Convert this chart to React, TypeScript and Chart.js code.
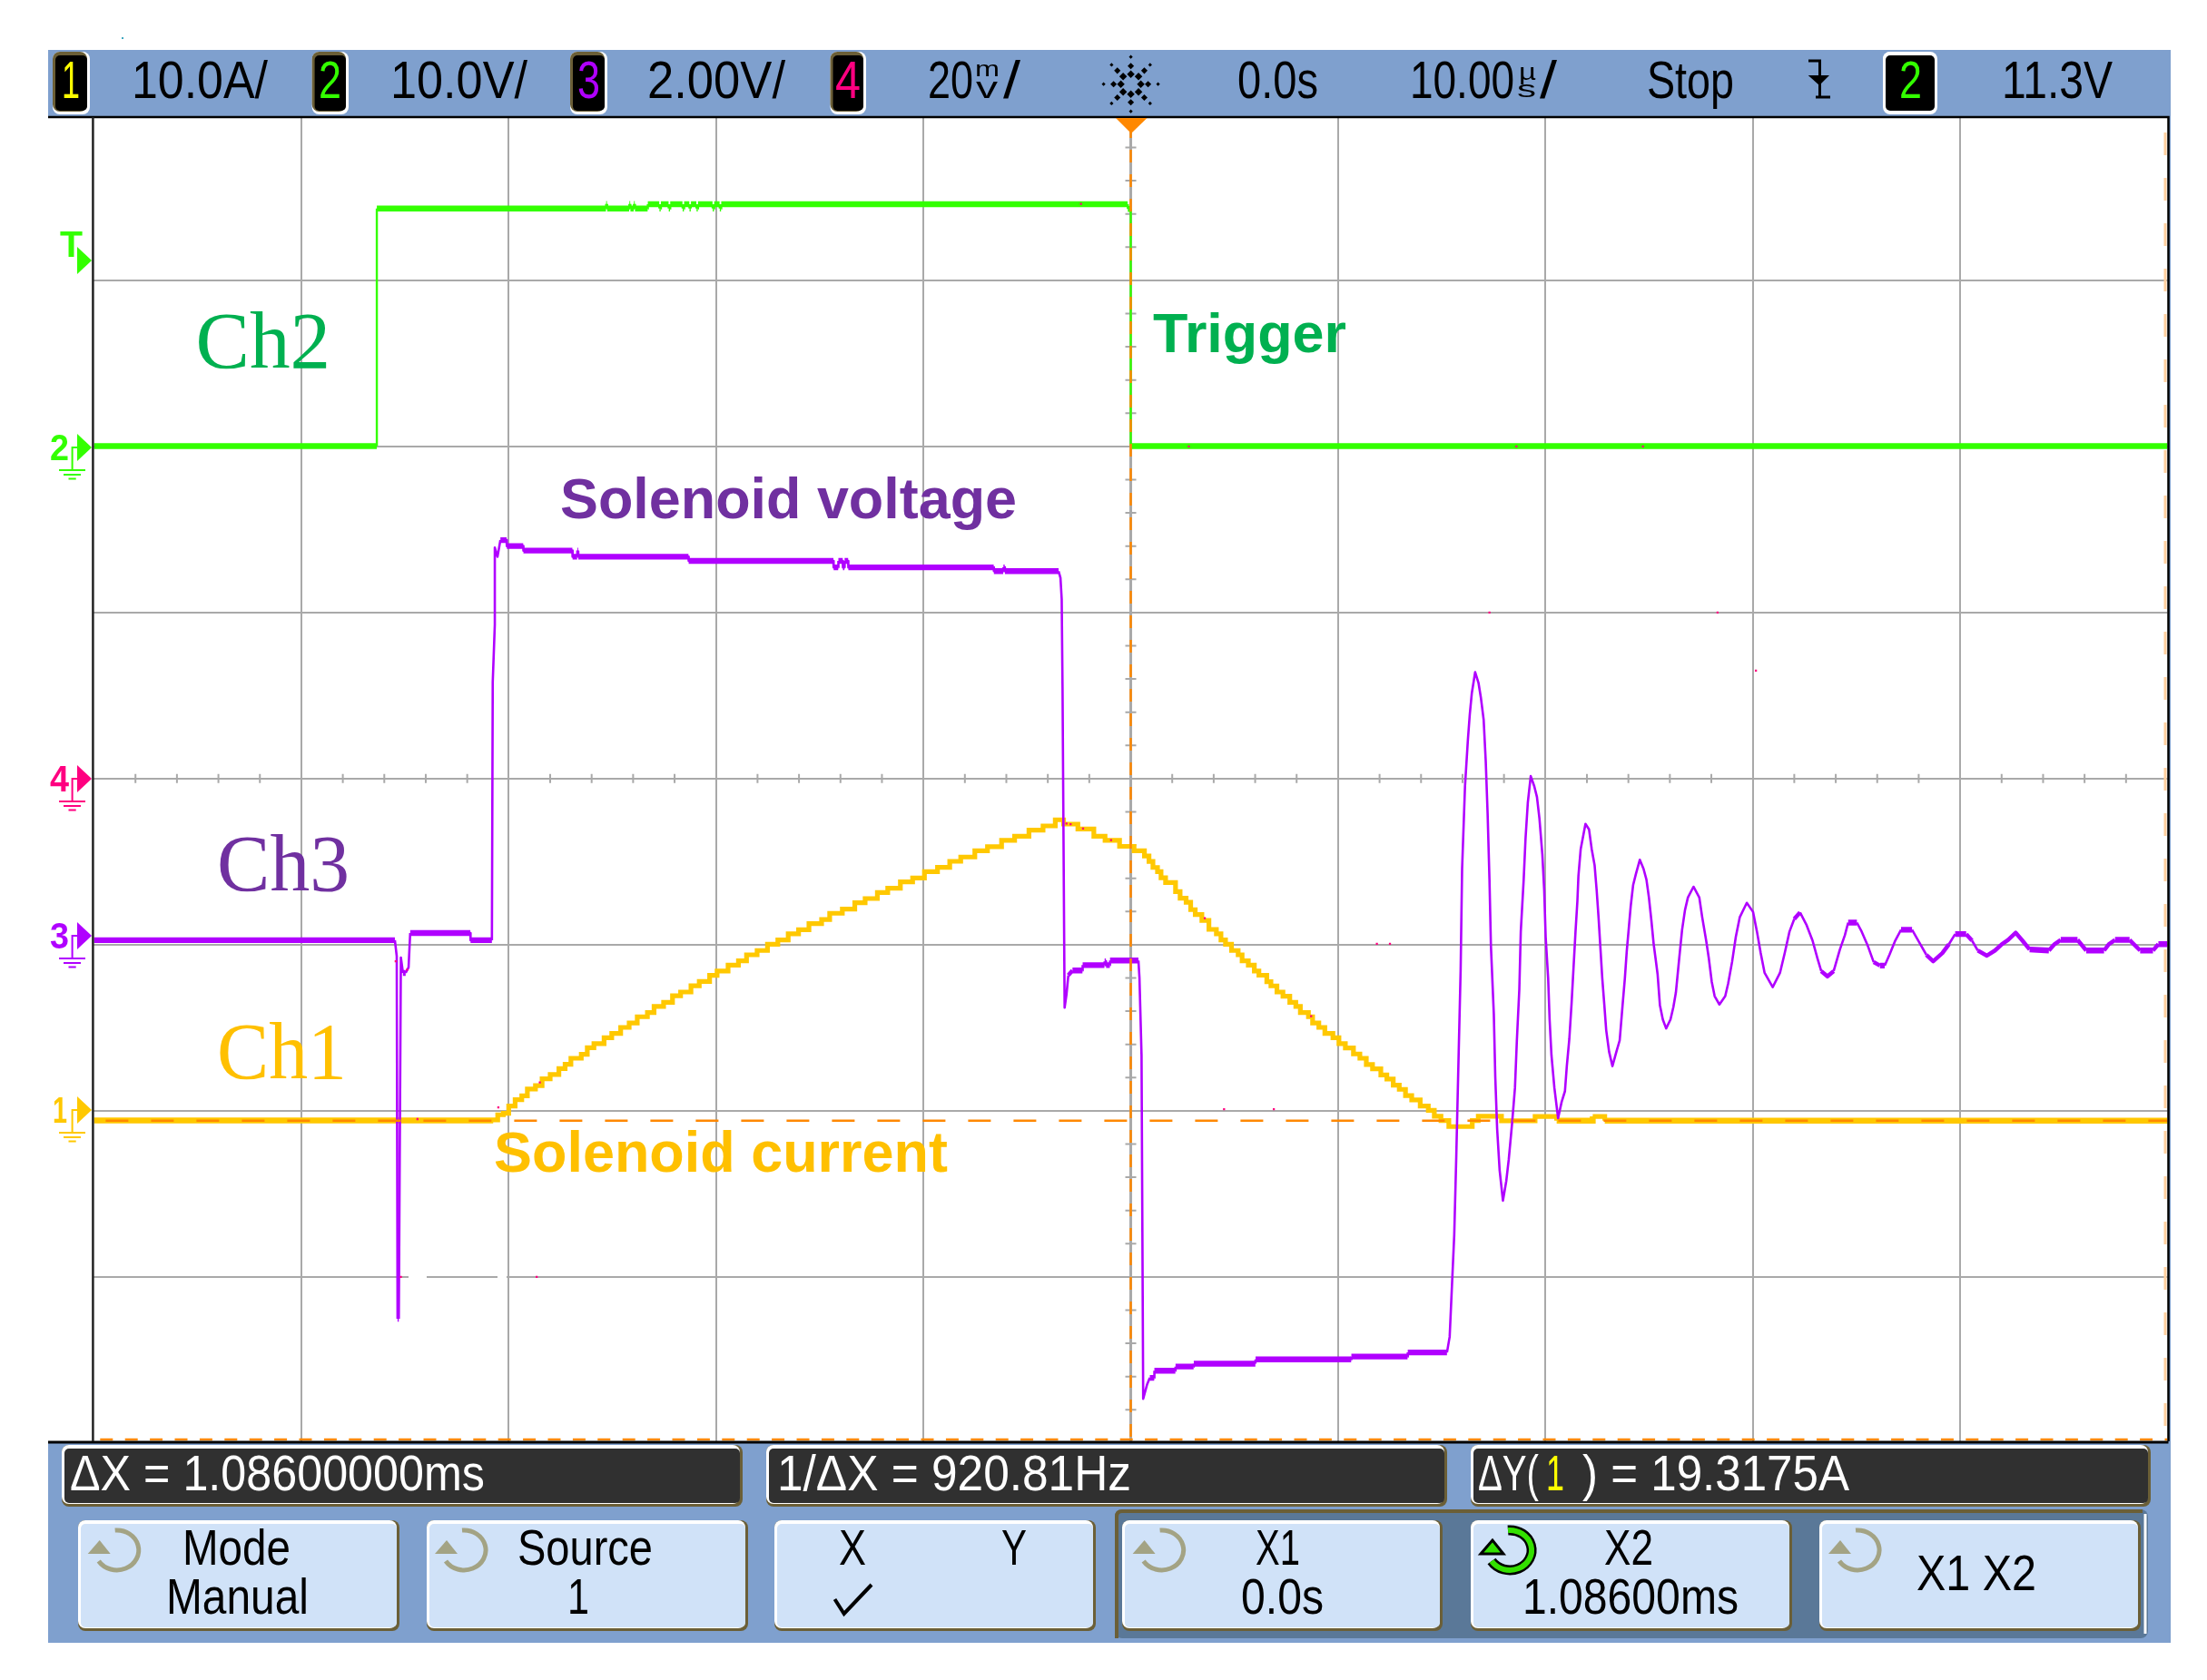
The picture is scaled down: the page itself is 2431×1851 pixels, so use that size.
import React, { useEffect, useRef } from "react";
import { Chart, registerables } from "chart.js";

Chart.register(...registerables);

const W = 2431;
const H = 1851;

// All samples: [time in µs from trigger, level in graticule divisions from screen centre]
const ch2Samples: [number, number][] = [
  [-50, 2.002], [-36.36, 2.002], [-36.36, 3.433], [-25.31, 3.433], [-25.3, 3.46], [-25.26, 3.46], [-25.25, 3.433],
  [-24.19, 3.433], [-24.18, 3.46], [-24.14, 3.46], [-24.13, 3.433], [-23.97, 3.433], [-23.96, 3.46], [-23.92, 3.46], [-23.91, 3.433],
  [-23.3, 3.433], [-23.29, 3.458], [-22.74, 3.458], [-22.73, 3.433], [-22.67, 3.433], [-22.66, 3.458],
  [-22.29, 3.458], [-22.28, 3.433], [-22.22, 3.433], [-22.21, 3.458], [-21.62, 3.458], [-21.61, 3.433], [-21.55, 3.433], [-21.54, 3.458],
  [-21.29, 3.458], [-21.28, 3.433], [-21.22, 3.433], [-21.21, 3.458], [-20.95, 3.458], [-20.94, 3.433], [-20.88, 3.433], [-20.87, 3.458],
  [-20.17, 3.458], [-20.16, 3.433], [-20.1, 3.433], [-20.09, 3.458], [-19.83, 3.458], [-19.82, 3.433], [-19.76, 3.433], [-19.75, 3.458],
  [-0.15, 3.458], [-0.14, 3.43], [0, 3.43], [0, 2.002], [50, 2.002],
];

const ch1Samples: [number, number][] = [
  [-50, -2.058], [-30.89, -2.055], [-30.53, -2.024], [-30.26, -2.015], [-30, -1.971], [-29.69, -1.933], [-29.37, -1.91], [-29.1, -1.869],
  [-28.71, -1.848], [-28.39, -1.808], [-28, -1.782], [-27.58, -1.746], [-27.28, -1.72], [-27, -1.684], [-26.5, -1.66], [-26.21, -1.62],
  [-25.89, -1.596], [-25.4, -1.56], [-25.03, -1.534], [-24.6, -1.498], [-24.19, -1.471], [-23.8, -1.434], [-23.31, -1.409], [-22.99, -1.372],
  [-22.53, -1.347], [-22.1, -1.308], [-21.71, -1.285], [-21.21, -1.247], [-20.81, -1.221], [-20.31, -1.185], [-19.95, -1.159], [-19.42, -1.123],
  [-18.92, -1.097], [-18.53, -1.061], [-18.02, -1.035], [-17.52, -0.997], [-17.02, -0.971], [-16.52, -0.935], [-16.02, -0.91], [-15.52, -0.873],
  [-14.91, -0.848], [-14.52, -0.811], [-13.91, -0.786], [-13.31, -0.747], [-12.81, -0.722], [-12.22, -0.686], [-11.72, -0.66], [-11.11, -0.622],
  [-10.52, -0.598], [-9.95, -0.56], [-9.32, -0.534], [-8.73, -0.498], [-8.2, -0.472], [-7.52, -0.434], [-6.91, -0.41], [-6.23, -0.372],
  [-5.6, -0.347], [-4.91, -0.31], [-4.23, -0.285], [-3.64, -0.248], [-3.24, -0.274], [-2.55, -0.303], [-1.78, -0.347], [-1.24, -0.372],
  [-0.54, -0.408], [0.16, -0.434], [0.66, -0.466], [0.88, -0.499], [1.07, -0.535], [1.29, -0.56], [1.46, -0.597], [1.68, -0.626],
  [2.16, -0.68], [2.38, -0.72], [2.67, -0.745], [2.89, -0.789], [3.11, -0.818], [3.43, -0.854], [3.77, -0.908], [4.13, -0.935],
  [4.35, -0.971], [4.57, -0.997], [4.86, -1.035], [5.18, -1.061], [5.37, -1.097], [5.67, -1.123], [5.96, -1.159], [6.18, -1.184],
  [6.56, -1.223], [6.76, -1.248], [7.05, -1.285], [7.34, -1.31], [7.67, -1.347], [7.96, -1.372], [8.18, -1.409], [8.57, -1.434],
  [8.77, -1.472], [9.07, -1.498], [9.36, -1.534], [9.75, -1.56], [10.04, -1.596], [10.35, -1.622], [10.74, -1.658], [11.05, -1.684],
  [11.36, -1.722], [11.66, -1.747], [12.06, -1.784], [12.35, -1.809], [12.66, -1.846], [12.95, -1.871], [13.25, -1.909], [13.55, -1.935],
  [13.96, -1.971], [14.35, -1.997], [14.64, -2.033], [14.96, -2.059], [15.34, -2.095], [16.47, -2.059], [16.76, -2.033], [17.88, -2.06],
  [19.5, -2.034], [20.54, -2.06], [22.28, -2.034], [22.86, -2.06], [50, -2.058],
];

const ch3Samples: [number, number][] = [
  [-50, -0.973], [-35.49, -0.973], [-35.4, -1.069], [-35.36, -3.252], [-35.3, -3.252], [-35.2, -1.077], [-35.1, -1.17], [-34.97, -1.17],
  [-34.83, -1.137], [-34.75, -0.93], [-31.85, -0.93], [-31.84, -0.973], [-30.81, -0.973], [-30.77, 0.58], [-30.67, 0.926], [-30.67, 1.391],
  [-30.54, 1.336], [-30.4, 1.436], [-30.1, 1.436], [-30.09, 1.4], [-29.3, 1.4], [-29.29, 1.373], [-26.93, 1.373], [-26.92, 1.336],
  [-26.7, 1.336], [-26.69, 1.373], [-26.65, 1.373], [-26.64, 1.336], [-21.33, 1.336], [-21.32, 1.311], [-14.34, 1.311], [-14.33, 1.272],
  [-14.11, 1.272], [-14.1, 1.311], [-13.89, 1.311], [-13.88, 1.272], [-13.81, 1.272], [-13.8, 1.311], [-13.63, 1.311], [-13.62, 1.272],
  [-6.61, 1.272], [-6.6, 1.249], [-6.15, 1.249], [-6.14, 1.272], [-6.08, 1.272], [-6.07, 1.249], [-3.48, 1.249], [-3.39, 1.209],
  [-3.33, 1.081], [-3.29, 0.547], [-3.19, -1.379], [-3.1, -1.3], [-3.01, -1.184], [-2.81, -1.155], [-2.33, -1.155], [-2.32, -1.123],
  [-1.27, -1.123], [-1.26, -1.1], [-1.2, -1.1], [-1.19, -1.123], [-1.01, -1.123], [-1, -1.095], [0.37, -1.095], [0.42, -1.199],
  [0.52, -1.667], [0.6, -3.734], [0.79, -3.647], [0.92, -3.608], [1.13, -3.608], [1.14, -3.565], [2.15, -3.565], [2.16, -3.54],
  [3.03, -3.54], [3.04, -3.523], [6.01, -3.523], [6.02, -3.497], [10.63, -3.497], [10.64, -3.48], [13.35, -3.48], [13.36, -3.455],
  [15.25, -3.455], [15.38, -3.361], [15.6, -2.75],
  [15.7, -2.271], [15.8, -1.731], [15.91, -1.148], [15.98, -0.543], [16.12, -0.046], [16.26, 0.235], [16.35, 0.386], [16.45, 0.516],
  [16.61, 0.641], [16.77, 0.577], [16.89, 0.484], [17.02, 0.354], [17.12, 0.105], [17.21, -0.208], [17.3, -0.608], [17.37, -1.007],
  [17.51, -1.418], [17.58, -1.796], [17.67, -2.109], [17.79, -2.358], [17.95, -2.541], [18.11, -2.423], [18.23, -2.293], [18.39, -2.077],
  [18.53, -1.861], [18.62, -1.58], [18.74, -1.267], [18.81, -0.921], [18.95, -0.608], [19.04, -0.359], [19.15, -0.143], [19.29, 0.015],
  [19.46, -0.046], [19.59, -0.111], [19.71, -0.24], [19.85, -0.456], [19.94, -0.672], [20.01, -0.953], [20.13, -1.202], [20.2, -1.45],
  [20.29, -1.666], [20.43, -1.861], [20.61, -2.045], [20.78, -1.947], [20.94, -1.882], [21.03, -1.731], [21.15, -1.569], [21.26, -1.353],
  [21.35, -1.148], [21.45, -0.921], [21.54, -0.737], [21.59, -0.586], [21.7, -0.424], [21.93, -0.273], [22.1, -0.305], [22.23, -0.424],
  [22.37, -0.521], [22.47, -0.673], [22.56, -0.835], [22.65, -1.018], [22.74, -1.202], [22.84, -1.364], [22.93, -1.515], [23.07, -1.645],
  [23.23, -1.731], [23.42, -1.645], [23.58, -1.576], [23.72, -1.364], [23.83, -1.202], [23.92, -1.04], [24.02, -0.899], [24.11, -0.77],
  [24.23, -0.64], [24.36, -0.575], [24.55, -0.489], [24.73, -0.543], [24.87, -0.608], [24.99, -0.716], [25.11, -0.856], [25.22, -0.997],
  [25.31, -1.083], [25.41, -1.18], [25.52, -1.364], [25.66, -1.45], [25.82, -1.504], [26.03, -1.45], [26.17, -1.375], [26.29, -1.288],
  [26.45, -1.083], [26.59, -0.91], [26.73, -0.791], [26.87, -0.716], [27.14, -0.651], [27.42, -0.716], [27.56, -0.835], [27.75, -0.975],
  [27.88, -1.083], [28.02, -1.223], [28.16, -1.31], [28.39, -1.36], [28.67, -1.31], [28.81, -1.234], [29, -1.104], [29.18, -0.953],
  [29.37, -0.835], [29.71, -0.748], [30.01, -0.802], [30.2, -0.921], [30.38, -1.05], [30.57, -1.17], [30.96, -1.256], [31.31, -1.17],
  [31.54, -1.05], [31.77, -0.921], [32, -0.845], [32.28, -0.806], [32.58, -0.878], [32.88, -0.975], [33.12, -1.083], [33.3, -1.159],
  [33.6, -1.191], [33.9, -1.159], [34.2, -1.029], [34.44, -0.943], [34.6, -0.867], [35.02, -0.867], [35.25, -0.921], [35.55, -1.008],
  [35.83, -1.105], [36.13, -1.126], [36.36, -1.126], [36.59, -1.061], [36.87, -0.975], [37.15, -0.91], [37.68, -0.91], [38.03, -0.986],
  [38.37, -1.061], [38.7, -1.1], [39.14, -1.051], [39.46, -0.997], [39.76, -0.936], [40.29, -0.936], [40.57, -0.975], [40.85, -1.035],
  [41.29, -1.066], [41.68, -1.035], [42.01, -0.997], [42.31, -0.971], [42.68, -0.928], [43, -0.975], [43.35, -1.029], [44.28, -1.035],
  [44.55, -0.997], [44.85, -0.971], [45.66, -0.971], [46.08, -1.035], [46.94, -1.035], [47.17, -0.997], [47.47, -0.971], [48.17, -0.971],
  [48.68, -1.035], [49.3, -1.035], [49.56, -0.997], [50, -0.997],
];

const ch4Glitches: [number, number][] = [
  [-35.45, -1.1], [-34.9, -1.15], [-34.4, -2.05], [-30.5, -1.98], [-28.5, -1.83], [-35.2, -3], [-28.65, -3], [-2.3, -0.3], [-0.95, -0.37],
  [-3.1, -0.27], [-2.9, -0.275], [2.8, 2], [3.57, -0.84], [8.7, -1.43], [4.5, -1.99], [6.9, -1.99], [11.87, -0.995], [12.5, -0.995],
  [17.3, 1], [18.6, 2], [24.7, 2], [28.3, 1], [30.15, 0.65], [-2.4, 3.46],
];

// Cursors
const cursorY1 = -2.06;
const cursorY2 = -3.979;
const cursorX1 = 0;
const cursorX2 = 49.89;

// Scale limits and graticule
const xMin = -50.05;
const xMax = 50;
const yMin = -3.99;
const yMax = 3.983;
const xGrid = [-40, -30, -20, -10, 0, 10, 20, 30, 40];
const yGrid = [-3, -2, -1, 0, 1, 2, 3];

const GRID = "#a9a9a9";
const C1 = "#ffc800";
const C2 = "#33ff00";
const C3 = "#b000ff";
const C4 = "#ff0080";
const ORANGE = "#ff8800";
const OLIVE = "#6b5f37";
const BLUE = "#7fa0ce";
const KEY = "#d0e2f8";

const toXY = (a: [number, number][]) => a.map(([x, y]) => ({ x, y }));

const steepWidth = (thick: number, thin: number) => (ctx: any) => {
  const dx = Math.abs(ctx.p1.x - ctx.p0.x);
  const dy = Math.abs(ctx.p1.y - ctx.p0.y);
  const s = dy / Math.max(dx, 0.01);
  if (s > 1.4) return thin;
  if (s > 0.45) return (thick + thin) / 2;
  return thick;
};

const rampWidth = (ctx: any) => {
  const dx = Math.abs(ctx.p1.x - ctx.p0.x);
  const dy = Math.abs(ctx.p1.y - ctx.p0.y);
  return dy / Math.max(dx, 0.01) > 0.12 ? 5.2 : 6.5;
};

const graticule = {
  id: "graticule",
  beforeDatasetsDraw(chart: any) {
    const { ctx, scales, chartArea: a } = chart;
    const cx = scales.x.getPixelForValue(0);
    const cy = scales.y.getPixelForValue(0);
    ctx.save();
    ctx.strokeStyle = GRID;
    ctx.lineWidth = 2;
    ctx.beginPath();
    for (let i = -24; i <= 24; i++) {
      if (i % 5 === 0) continue;
      const x = scales.x.getPixelForValue(i * 2);
      ctx.moveTo(x, cy - 5);
      ctx.lineTo(x, cy + 5);
    }
    for (let i = -19; i <= 19; i++) {
      if (i % 5 === 0) continue;
      const y = scales.y.getPixelForValue(i / 5);
      ctx.moveTo(cx - 6, y);
      ctx.lineTo(cx + 6, y);
    }
    ctx.stroke();
    ctx.lineWidth = 3;
    ctx.beginPath();
    ctx.moveTo(cx, a.top);
    ctx.lineTo(cx, a.bottom);
    ctx.stroke();
    ctx.fillStyle = "#fff";
    const gy = scales.y.getPixelForValue(-3);
    ctx.fillRect(450, gy - 2, 20, 4);
    ctx.fillRect(548, gy - 2, 10, 4);
    ctx.restore();
  },
};

function Box({ x0, x1, y0, y1, fill, tl = "#fff", br = OLIVE, r = 8 }: any) {
  const w = x1 - x0;
  const h = y1 - y0;
  return (
    <g>
      <rect x={x0} y={y0} width={w} height={h} rx={r} fill={br} />
      <rect x={x0} y={y0} width={w - 3} height={h - 3} rx={r} fill={tl} />
      <rect x={x0 + 3} y={y0 + 4} width={w - 6} height={h - 8} rx={r - 3} fill={fill} />
    </g>
  );
}

function Txt({ s, x0, x1, y, size = 57, color = "#000", family = "'Liberation Sans'", weight = 400 }: any) {
  return (
    <text
      x={x0}
      y={y}
      textLength={x1 - x0}
      lengthAdjust="spacingAndGlyphs"
      fontFamily={family}
      fontSize={size}
      fontWeight={weight}
      fill={color}
      xmlSpace="preserve"
    >
      {s}
    </text>
  );
}

function Knob({ cx, cy = 1708, active = false }: any) {
  const arc = `M ${cx} ${cy - 22} A 24 22 0 1 1 ${cx - 18} ${cy + 12}`;
  const tri = `${cx - 17},${cy - 11} ${cx - 30},${cy + 4} ${cx - 5},${cy + 4}`;
  if (active) {
    return (
      <g>
        <path d={arc} fill="none" stroke="#000" strokeWidth={11} />
        <polygon points={tri} fill="#33e000" stroke="#000" strokeWidth={3} />
        <path d={arc} fill="none" stroke="#33e000" strokeWidth={6} />
      </g>
    );
  }
  return (
    <g>
      <path d={arc} fill="none" stroke="#a3a384" strokeWidth={5} />
      <polygon points={tri} fill="#a3a384" />
    </g>
  );
}

function Marker({ c, digit, color, dx0, dx1 }: any) {
  return (
    <g>
      <Txt s={digit} x0={dx0} x1={dx1} y={c + 14} size={40} weight={700} color={color} />
      <polygon points={`85,${c - 15} 101,${c} 85,${c + 15}`} fill={color} />
      <path
        d={`M85 ${c} H79.6 V${c + 25} M65 ${c + 25} H94 M70 ${c + 30} H89 M75.5 ${c + 34.5} H83.7`}
        fill="none"
        stroke={color}
        strokeWidth={2}
      />
    </g>
  );
}

function Spark({ cx, cy }: any) {
  const dots: React.ReactElement[] = [];
  const spokes: [number, number[]][] = [
    [0, [11, 19, 30]], [45, [12, 21, 30]], [90, [11, 20, 30]], [135, [12, 21, 30]],
    [180, [11, 19, 30]], [225, [12, 21, 30]], [270, [11, 20, 30]], [315, [12, 21, 30]],
  ];
  spokes.forEach(([deg, rs]) => {
    rs.forEach((r, i) => {
      const t = (deg * Math.PI) / 180;
      const sz = i === 2 ? 3 : 6 - i;
      const px = cx + Math.cos(t) * r;
      const py = cy + Math.sin(t) * r;
      dots.push(
        <rect
          key={`${deg}-${r}`}
          x={px - sz / 2}
          y={py - sz / 2}
          width={sz}
          height={sz}
          fill="#000"
          transform={`rotate(45 ${px} ${py})`}
        />
      );
    });
  });
  return <g>{dots}</g>;
}

function Overlay() {
  return (
    <svg width={W} height={H} style={{ position: "absolute", left: 0, top: 0, pointerEvents: "none" }}>
      {/* header */}
      <rect x={53} y={55} width={2338} height={74} fill={BLUE} />
      <rect x={2388} y={129} width={3} height={1460} fill={BLUE} />
      <rect x={53} y={1588} width={2338} height={222} fill={BLUE} />
      <rect x={134} y={41} width={2} height={2} fill="#40a8c0" />

      <Box x0={58} x1={99} y0={57} y1={126} fill="#000" tl={OLIVE} br="#fff" />
      <Box x0={343.6} x1={384} y0={57} y1={126} fill="#000" tl={OLIVE} br="#fff" />
      <Box x0={628} x1={669} y0={57} y1={126} fill="#000" tl={OLIVE} br="#fff" />
      <Box x0={914.5} x1={954} y0={57} y1={126} fill="#000" tl={OLIVE} br="#fff" />
      <Box x0={2074} x1={2134} y0={57} y1={126} fill="#000" tl="#fff" br="#fff" />
      <Txt s="1" x0={68} x1={88} y={108} color="#ffff00" />
      <Txt s="2" x0={351} x1={376} y={108} color={C2} />
      <Txt s="3" x0={636} x1={661} y={108} color={C3} />
      <Txt s="4" x0={920} x1={948} y={108} color={C4} />
      <Txt s="2" x0={2092} x1={2117} y={108} color={C2} />

      <Txt s="10.0A/" x0={145} x1={295} y={108} />
      <Txt s="10.0V/" x0={430} x1={581} y={108} />
      <Txt s="2.00V/" x0={713} x1={865} y={108} />
      <Txt s="20" x0={1022} x1={1072} y={108} />
      <Txt s="m" x0={1074} x1={1101} y={84} size={24} />
      <Txt s="v" x0={1075} x1={1099} y={108} size={34} />
      <Txt s="/" x0={1105} x1={1124} y={108} />
      <Spark cx={1245.6} cy={92.7} />
      <Txt s="0.0s" x0={1363} x1={1452} y={108} />
      <Txt s="10.00" x0={1553} x1={1668} y={108} />
      <Txt s="µ" x0={1673} x1={1692} y={88} size={26} />
      <Txt s="s" x0={1671} x1={1692} y={107} size={26} />
      <Txt s="/" x0={1696} x1={1715} y={108} />
      <Txt s="Stop" x0={1814} x1={1910} y={108} />
      <path d="M1992 67 H2004.5 V107 M2000 107 H2016" stroke="#000" strokeWidth={3} fill="none" />
      <polygon points="1991.7,83 2015,83 2004,94" fill="#000" />
      <Txt s="11.3V" x0={2205} x1={2327} y={108} />

      {/* bottom panel */}
      <rect x={1228} y={1663} width={1138} height={142} rx={8} fill="#5a7898" />
      <path d="M1230 1805 V1671 Q1230 1665 1236 1665 H2360" fill="none" stroke={OLIVE} strokeWidth={4} />
      <path d="M2363 1668 V1800" fill="none" stroke="#fff" strokeWidth={3} />

      <Box x0={68} x1={818} y0={1592} y1={1660} fill="#303030" />
      <Box x0={844} x1={1594} y0={1592} y1={1660} fill="#303030" />
      <Box x0={1620} x1={2369} y0={1592} y1={1660} fill="#303030" />
      <Txt s="ΔX = 1.08600000ms" x0={77} x1={534} y={1642} size={56} color="#fff" />
      <Txt s="1/ΔX = 920.81Hz" x0={856} x1={1246} y={1642} size={56} color="#fff" />
      <Txt s="ΔY(" x0={1628} x1={1695} y={1642} size={56} color="#fff" />
      <Txt s="1" x0={1703} x1={1723} y={1642} size={56} color="#ffff00" />
      <Txt s=") = 19.3175A" x0={1743} x1={2037} y={1642} size={56} color="#fff" />

      <Box x0={86} x1={440} y0={1675} y1={1797} fill={KEY} />
      <Box x0={470} x1={824} y0={1675} y1={1797} fill={KEY} />
      <Box x0={853} x1={1207} y0={1675} y1={1797} fill={KEY} />
      <Box x0={1236} x1={1589} y0={1675} y1={1797} fill={KEY} />
      <Box x0={1620} x1={1974} y0={1675} y1={1797} fill={KEY} />
      <Box x0={2004} x1={2358} y0={1675} y1={1797} fill={KEY} />
      <Knob cx={126.7} />
      <Knob cx={509} />
      <Knob cx={1277.6} />
      <Knob cx={1661} active />
      <Knob cx={2044} />

      <Txt s="Mode" x0={201} x1={320} y={1724} size={56} />
      <Txt s="Manual" x0={183} x1={340} y={1778} size={56} />
      <Txt s="Source" x0={570} x1={719} y={1724} size={56} />
      <Txt s="1" x0={625} x1={649} y={1778} size={56} />
      <Txt s="X" x0={924} x1={954} y={1724} size={56} />
      <Txt s="Y" x0={1103} x1={1131} y={1724} size={56} />
      <polyline points="919.5,1762 929.7,1778 960,1746" fill="none" stroke="#000" strokeWidth={4} />
      <Txt s="X1" x0={1383} x1={1432} y={1724} size={56} />
      <Txt s="0.0s" x0={1367} x1={1458} y={1778} size={56} />
      <Txt s="X2" x0={1767} x1={1821} y={1724} size={56} />
      <Txt s="1.08600ms" x0={1677} x1={1915} y={1778} size={56} />
      <Txt s="X1 X2" x0={2111} x1={2243} y={1752} size={56} />

      {/* plot frame */}
      <path d="M53 129 H2388.5 V1588" fill="none" stroke="#000" strokeWidth={2.5} />
      <path d="M53 1589 H2388.5" fill="none" stroke="#000" strokeWidth={3} />
      <path d="M102.4 129 V1588" fill="none" stroke="#222" strokeWidth={2.5} />

      {/* trigger mark and channel markers */}
      <polygon points="1229,130 1263.5,130 1246,147" fill={ORANGE} />
      <Txt s="T" x0={66} x1={91} y={283} size={40} weight={700} color={C2} />
      <polygon points="85,272 101,287 85,302" fill={C2} />
      <Marker c={493} digit="2" color={C2} dx0={55} dx1={76} />
      <Marker c={858} digit="4" color={C4} dx0={55} dx1={76} />
      <Marker c={1031} digit="3" color={C3} dx0={55} dx1={76} />
      <Marker c={1223} digit="1" color={C1} dx0={58} dx1={74} />

      {/* annotations */}
      <Txt s="Ch2" x0={215.5} x1={364} y={405} size={88} family="'Liberation Serif'" color="#00b050" />
      <Txt s="Ch3" x0={239} x1={385} y={981} size={88} family="'Liberation Serif'" color="#7030a0" />
      <Txt s="Ch1" x0={239} x1={382} y={1188} size={88} family="'Liberation Serif'" color="#ffc000" />
      <Txt s="Trigger" x0={1270} x1={1483} y={388} size={62} weight={700} color="#00b050" />
      <Txt s="Solenoid voltage" x0={617} x1={1120} y={571} size={62.5} weight={700} color="#7030a0" />
      <Txt s="Solenoid current" x0={544} x1={1044} y={1291} size={62.5} weight={700} color="#ffc000" />
    </svg>
  );
}

export default function App() {
  const ref = useRef<HTMLCanvasElement>(null);
  useEffect(() => {
    const line = (label: string, data: [number, number][], color: string, extra: any = {}) => ({
      label,
      data: toXY(data),
      borderColor: color,
      backgroundColor: color,
      pointRadius: 0,
      fill: false,
      tension: 0,
      ...extra,
    });
    const chart = new Chart(ref.current as HTMLCanvasElement, {
      type: "line",
      data: {
        datasets: [
          line("Ch4", ch4Glitches, C4, { showLine: false, pointRadius: 1.6, pointStyle: "rect", borderWidth: 0 }),
          line("Cursor X1", [[cursorX1, yMax], [cursorX1, yMin]], ORANGE, { borderWidth: 2.5, borderDash: [14, 13], borderDashOffset: 18 }),
          line("Cursor X2", [[cursorX2, yMax], [cursorX2, yMin]], "#ffd0a0", { borderWidth: 3, borderDash: [25, 25], borderDashOffset: 33 }),
          line("Cursor Y1", [[xMin, cursorY1], [xMax, cursorY1]], ORANGE, { borderWidth: 2.5, borderDash: [25, 25], borderDashOffset: 36 }),
          line("Cursor Y2", [[xMin, cursorY2], [xMax, cursorY2]], ORANGE, { borderWidth: 2.5, borderDash: [14, 13.4], borderDashOffset: 19.5 }),
          line("Ch3", ch3Samples, C3, {
            borderWidth: 5,
            borderCapStyle: "butt",
            borderJoinStyle: "round",
            segment: { borderWidth: steepWidth(6.4, 2.6) },
          }),
          line("Ch1", ch1Samples, C1, {
            borderWidth: 6.5,
            stepped: true,
            borderJoinStyle: "miter",
            borderCapStyle: "butt",
            segment: { borderWidth: rampWidth },
          }),
          line("Ch2", ch2Samples, C2, {
            borderWidth: 6.5,
            borderCapStyle: "butt",
            segment: { borderWidth: steepWidth(6.5, 2.4) },
          }),
        ],
      } as any,
      options: {
        animation: false,
        responsive: false,
        events: [],
        layout: { padding: { left: 102.4, right: W - 2387.5, top: 129, bottom: H - 1588 } },
        plugins: { legend: { display: false }, tooltip: { enabled: false } },
        scales: {
          x: {
            type: "linear",
            min: xMin,
            max: xMax,
            afterBuildTicks: (s: any) => {
              s.ticks = xGrid.map((value) => ({ value }));
            },
            ticks: { display: false },
            border: { display: false },
            grid: { color: GRID, lineWidth: 2, drawTicks: false },
          },
          y: {
            type: "linear",
            min: yMin,
            max: yMax,
            afterBuildTicks: (s: any) => {
              s.ticks = yGrid.map((value) => ({ value }));
            },
            ticks: { display: false },
            border: { display: false },
            grid: { color: GRID, lineWidth: 2, drawTicks: false },
          },
        },
      } as any,
      plugins: [graticule],
    });
    return () => chart.destroy();
  }, []);
  return (
    <div style={{ position: "absolute", left: 0, top: 0, width: W, height: H, overflow: "hidden", background: "#fff" }}>
      <canvas ref={ref} width={W} height={H} style={{ position: "absolute", left: 0, top: 0, width: W, height: H }} />
      <Overlay />
    </div>
  );
}
